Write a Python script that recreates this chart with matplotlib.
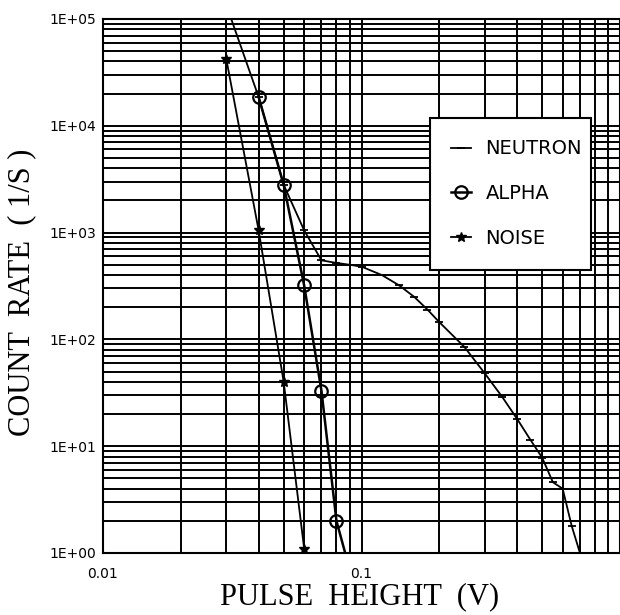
import matplotlib
matplotlib.use("Agg")
import matplotlib.pyplot as plt
from matplotlib.ticker import LogLocator, NullFormatter

# pulse height (V) vs count rate (1/s)
neutron_x = [0.03, 0.04, 0.05, 0.06, 0.07, 0.08, 0.09, 0.10, 0.12, 0.14, 0.16, 0.18,
             0.20, 0.25, 0.30, 0.35, 0.40, 0.45, 0.50, 0.55, 0.60, 0.65, 0.70]
neutron_y = [135000, 18600, 2800, 1050, 550, 520, 500, 480, 400, 320, 250, 190,
             145, 85, 48, 29, 18, 11.5, 7.8, 4.6, 4.0, 1.8, 1.0]

alpha_x = [0.04, 0.05, 0.06, 0.07, 0.08, 0.09]
alpha_y = [18600, 2800, 320, 33, 2.0, 0.7]

noise_x = [0.03, 0.04, 0.05, 0.06]
noise_y = [42000, 1050, 40, 1.1]

ytick_vals = [1, 10, 100, 1000, 10000, 100000]
ytick_labels = ["1E+00", "1E+01", "1E+02", "1E+03", "1E+04", "1E+05"]
xtick_vals = [0.01, 0.1]
xtick_labels = ["0.01", "0.1"]

narrow = ["Liberation Sans Narrow", "DejaVu Sans"]
serif = ["Liberation Serif", "DejaVu Serif"]

fig = plt.figure(figsize=(6.2, 6.15), dpi=100)
ax = fig.add_axes([103 / 620, 1 - 553 / 615, 517 / 620, 534 / 615])

ax.plot(neutron_x, neutron_y, color="black", lw=1.3, marker="_", ms=6, mew=1.3,
        label="NEUTRON")
ax.plot(alpha_x, alpha_y, color="black", lw=1.8, marker="o", ms=9, mfc="none",
        mew=1.6, label="ALPHA")
ax.plot(noise_x, noise_y, color="black", lw=1.3, marker="*", ms=7, label="NOISE")

ax.set_xscale("log")
ax.set_yscale("log")
ax.set_xlim(0.01, 1.0)
ax.set_ylim(1, 1e5)

ax.xaxis.set_minor_locator(LogLocator(base=10, subs=range(2, 10), numticks=20))
ax.yaxis.set_minor_locator(LogLocator(base=10, subs=range(2, 10), numticks=20))
ax.xaxis.set_minor_formatter(NullFormatter())
ax.yaxis.set_minor_formatter(NullFormatter())
ax.set_xticks(xtick_vals, xtick_labels)
ax.set_yticks(ytick_vals, ytick_labels)
ax.tick_params(which="both", length=0)
ax.tick_params(axis="x", pad=10)
ax.tick_params(axis="y", pad=5)
for t in ax.get_xticklabels() + ax.get_yticklabels():
    t.set_family(narrow)
    t.set_fontsize(10)

ax.grid(True, which="both", color="black", lw=1.4)
for s in ax.spines.values():
    s.set_linewidth(1.5)

leg = ax.legend(loc="upper left", bbox_to_anchor=(0.6325, 0.8146, 0.3114, 0.0),
                mode="expand", borderaxespad=0,
                prop={"family": narrow, "size": 14},
                handlelength=1.0, handletextpad=0.75, labelspacing=1.33,
                borderpad=1.1, fancybox=False, framealpha=1, edgecolor="black")
leg.get_frame().set_linewidth(1.5)

fig.text(22 / 620, 1 - 292 / 615, "COUNT  RATE  ( 1/S )", rotation=90, ha="center",
         va="center", family=serif, fontsize=22)
fig.text(360 / 620, 1 - 597 / 615, "PULSE  HEIGHT  (V)", ha="center", va="center",
         family=serif, fontsize=22)

fig.savefig("out.png", dpi=100)
